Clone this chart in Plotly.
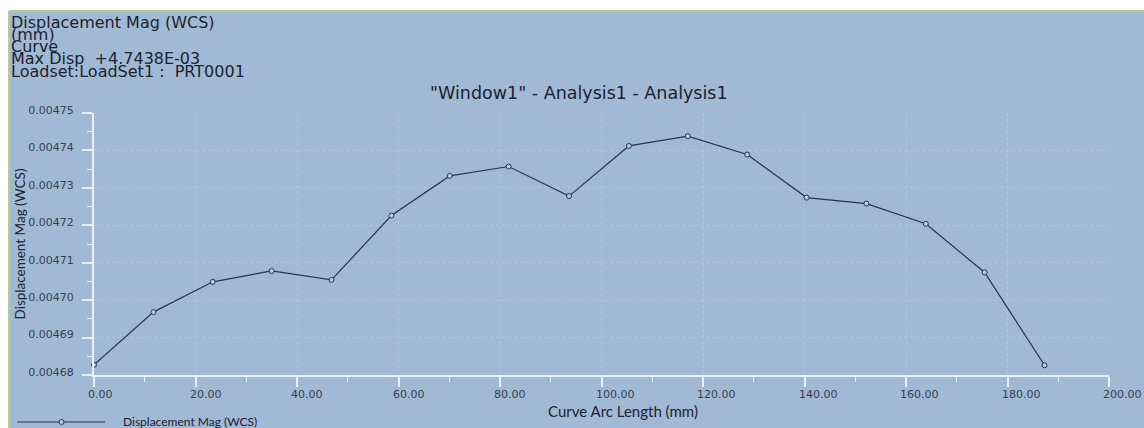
import plotly.graph_objects as go

# Curve samples: arc length along the curve (mm) and displacement magnitude
arc_length = [0.0, 11.7, 23.4, 35.0, 46.8, 58.6, 70.1, 81.7, 93.6, 105.4,
              117.0, 128.7, 140.4, 152.2, 163.9, 175.5, 187.3]
disp_mag = [0.0046827, 0.0046968, 0.0047049, 0.0047078, 0.0047054, 0.0047226,
            0.0047332, 0.0047357, 0.0047278, 0.0047412, 0.0047438, 0.0047389,
            0.0047274, 0.0047258, 0.0047204, 0.0047074, 0.0046826]

x_ticks = [0, 20, 40, 60, 80, 100, 120, 140, 160, 180, 200]
y_ticks = [0.00468, 0.00469, 0.00470, 0.00471, 0.00472, 0.00473, 0.00474, 0.00475]

info_lines = [
    "Displacement Mag (WCS)",
    "(mm)",
    "Curve",
    "Max Disp\u00a0\u00a0+4.7438E-03",
    "Loadset:LoadSet1\u00a0:\u00a0\u00a0PRT0001",
]

W, H = 1144, 428
L, R, T, B = 94, 1109, 113, 375
BG = "#a0b9d4"
GREEN = "#b7cc8c"
AXIS = "#eaf1f4"
TXT = "#1e2230"
TICK_TXT = "#3a4050"
FONT = "Lato"
WIDE = "DejaVu Sans"


def fx(p):
    return (p - L) / (R - L)


def fy(p):
    return (B - p) / (B - T)


fig = go.Figure()
fig.add_trace(go.Scatter(
    x=arc_length, y=disp_mag, mode="lines+markers",
    line=dict(color="#2a3450", width=1.2),
    marker=dict(symbol="circle", size=5, color="#b9cadf",
                line=dict(color="#2a3450", width=1)),
    cliponaxis=False, showlegend=False,
))

shapes = [
    # panel background with green frame on top and left
    dict(type="rect", xref="paper", yref="paper", x0=fx(9), x1=fx(W + 5),
         y0=fy(H + 5), y1=fy(11), fillcolor=BG, line=dict(width=0), layer="below"),
    dict(type="line", xref="paper", yref="paper", x0=fx(9), x1=fx(W + 5),
         y0=fy(11), y1=fy(11), line=dict(color=GREEN, width=2)),
    dict(type="line", xref="paper", yref="paper", x0=fx(9), x1=fx(9),
         y0=fy(11), y1=fy(H + 5), line=dict(color=GREEN, width=2)),
    # legend sample line
    dict(type="line", xref="paper", yref="paper", x0=fx(17), x1=fx(105),
         y0=fy(422), y1=fy(422), line=dict(color="#2a3450", width=1)),
    dict(type="circle", xref="paper", yref="paper", x0=fx(59), x1=fx(64),
         y0=fy(424.5), y1=fy(419.5), fillcolor="#b9cadf",
         line=dict(color="#2a3450", width=1)),
]

annotations = []
centers = [22.5, 34.6, 46.6, 58.8, 71.2]
for text, cy in zip(info_lines, centers):
    annotations.append(dict(
        text=text, xref="paper", yref="paper", x=fx(9), y=fy(cy),
        xanchor="left", yanchor="middle", showarrow=False,
        font=dict(family=WIDE, size=16, color=TXT)))

annotations.append(dict(
    text='"Window1" - Analysis1 - Analysis1', xref="paper", yref="paper",
    x=fx(579), y=fy(92.5), xanchor="center", yanchor="middle", showarrow=False,
    font=dict(family=WIDE, size=17.5, color=TXT)))

# x tick labels sit just right of their ticks
for t in x_ticks:
    annotations.append(dict(
        text=f"{t:.2f}", xref="x", yref="paper", x=t, y=fy(394.5),
        xanchor="left", yanchor="middle", xshift=-8, showarrow=False,
        font=dict(family=WIDE, size=11, color=TICK_TXT)))

annotations.append(dict(
    text="Curve Arc Length (mm)", xref="paper", yref="paper",
    x=fx(623), y=fy(410.5), xanchor="center", yanchor="middle", showarrow=False,
    font=dict(family=FONT, size=15, color=TXT)))

annotations.append(dict(
    text="Displacement Mag (WCS)", xref="paper", yref="paper",
    x=fx(121), y=fy(421.5), xanchor="left", yanchor="middle", showarrow=False,
    font=dict(family=FONT, size=12, color=TXT)))

fig.update_layout(
    width=W, height=H,
    margin=dict(l=L, r=W - R, t=T, b=H - B, pad=0),
    paper_bgcolor="white", plot_bgcolor=BG,
    shapes=shapes, annotations=annotations,
    font=dict(family=FONT, color=TXT),
)

fig.update_xaxes(
    range=[0, 200], tickvals=x_ticks, showticklabels=False,
    showline=True, linecolor=AXIS, linewidth=2,
    ticks="outside", ticklen=10, tickwidth=1.5, tickcolor=AXIS,
    minor=dict(dtick=10, tick0=0, ticks="outside", ticklen=5,
               tickcolor=AXIS, tickwidth=1, showgrid=False),
    showgrid=True, gridcolor="#afc5dc", griddash="dot", gridwidth=1,
    zeroline=False,
)

fig.update_yaxes(
    range=[0.00468, 0.00475], tickvals=y_ticks,
    ticktext=[f"{v:.5f}" for v in y_ticks],
    tickfont=dict(family=WIDE, size=11, color=TICK_TXT),
    ticklabelstandoff=6, ticklabelshift=-3,
    showline=True, linecolor=AXIS, linewidth=2,
    ticks="outside", ticklen=10, tickwidth=1.5, tickcolor=AXIS,
    minor=dict(dtick=0.000005, tick0=0.00468, ticks="outside", ticklen=5,
               tickcolor=AXIS, tickwidth=1, showgrid=False),
    showgrid=True, gridcolor="#afc5dc", griddash="dot", gridwidth=1,
    zeroline=False,
    title=dict(text="Displacement Mag (WCS)",
               font=dict(family=FONT, size=13.5, color=TXT), standoff=0),
)

fig.write_html("out.html")
